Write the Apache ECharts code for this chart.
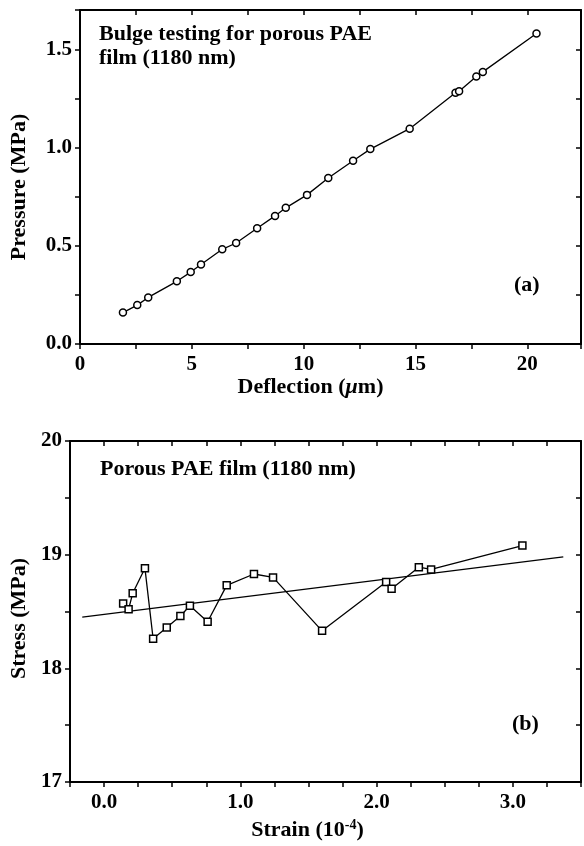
<!DOCTYPE html>
<html>
<head>
<meta charset="utf-8">
<script src="https://cdn.jsdelivr.net/npm/echarts@6/dist/echarts.min.js"></script>
<style>
  html, body { margin: 0; padding: 0; background: #fff; }
  #chart { width: 584px; height: 846px; }
</style>
</head>
<body>
<div id="chart"></div>
<script>
// (a) bulge test: deflection (um) vs pressure (MPa)
const deflection = [1.92, 2.56, 3.05, 4.33, 4.95, 5.41, 6.36, 6.98, 7.92, 8.72, 9.20,
  10.15, 11.10, 12.21, 12.98, 14.74, 16.79, 16.95, 17.72, 18.01, 20.41];
const pressure = [0.160, 0.198, 0.237, 0.319, 0.366, 0.405, 0.482, 0.514, 0.589, 0.652, 0.693,
  0.759, 0.845, 0.933, 0.992, 1.096, 1.279, 1.287, 1.362, 1.385, 1.580];

// (b) strain (1e-4) vs stress (MPa)
const strain = [0.14, 0.18, 0.21, 0.30, 0.36, 0.46, 0.56, 0.63, 0.76, 0.90, 1.10, 1.24,
  1.60, 2.07, 2.11, 2.31, 2.40, 3.07];
const stress = [18.57, 18.52, 18.66, 18.88, 18.26, 18.36, 18.46, 18.55, 18.41, 18.73, 18.83, 18.80,
  18.33, 18.76, 18.70, 18.89, 18.87, 19.08];

// linear fit drawn over (b)
const fitStrain = [-0.16, 3.37];
const fitStress = [18.45, 18.98];

const FONT = 'Liberation Serif';
const txt = { fontFamily: FONT, fontWeight: 'bold', fontSize: 22, color: '#000' };
const tickTxt = Object.assign({}, txt, { fontSize: 21 });
const axLine = { show: true, onZero: false, lineStyle: { color: '#000', width: 2 } };
const tick = { show: true, length: 5, lineStyle: { color: '#000', width: 1.5 } };

// keep only labels that sit on a multiple of step
function every(step, digits) {
  return function (v) {
    const k = v / step;
    return Math.abs(k - Math.round(k)) < 1e-6 ? v.toFixed(digits) : '';
  };
}

function mirror(axis, pos) {
  // top / right frame axis: ticks pointing inwards, no labels
  return Object.assign({}, axis, {
    position: pos,
    axisLabel: { show: false },
    axisTick: Object.assign({}, tick, { inside: true }),
    name: ''
  });
}

const xA = {
  type: 'value', gridIndex: 0, min: 0, max: 22.4, interval: 2.5,
  axisLine: axLine, splitLine: { show: false }, axisTick: tick,
  axisLabel: Object.assign({}, tickTxt, { margin: 10, formatter: every(5, 0) }),
  name: 'Deflection ({i|μ}m)', nameLocation: 'middle', nameGap: 30,
  nameTextStyle: Object.assign({}, txt, {
    padding: [0, 40, 0, 0],
    rich: { i: Object.assign({}, txt, { fontStyle: 'italic' }) }
  })
};
const yA = {
  type: 'value', gridIndex: 0, min: 0, max: 1.7, interval: 0.25,
  axisLine: axLine, splitLine: { show: false }, axisTick: tick,
  axisLabel: Object.assign({}, tickTxt, { margin: 8, formatter: every(0.5, 1) }),
  name: 'Pressure (MPa)', nameLocation: 'middle', nameGap: 50,
  nameTextStyle: Object.assign({}, txt, { padding: [0, 20, 0, 0] })
};
const xB = {
  type: 'value', gridIndex: 1, min: -0.25, max: 3.5, interval: 0.25,
  axisLine: axLine, splitLine: { show: false }, axisTick: tick,
  axisLabel: Object.assign({}, tickTxt, { margin: 10, formatter: every(1, 1) }),
  name: 'Strain (10{s|-4})', nameLocation: 'middle', nameGap: 36,
  nameTextStyle: Object.assign({}, txt, {
    padding: [0, 36, 0, 0],
    rich: { s: Object.assign({}, txt, { fontSize: 14, verticalAlign: 'top', padding: [0, 0, 10, 0] }) }
  })
};
const yB = {
  type: 'value', gridIndex: 1, min: 17, max: 20, interval: 0.5,
  axisLine: axLine, splitLine: { show: false }, axisTick: tick,
  axisLabel: Object.assign({}, tickTxt, { margin: 8, formatter: every(1, 0) }),
  name: 'Stress (MPa)', nameLocation: 'middle', nameGap: 40,
  nameTextStyle: Object.assign({}, txt, { padding: [0, 14, 0, 0] })
};

const chart = echarts.init(document.getElementById('chart'));
chart.setOption({
  backgroundColor: '#fff',
  animation: false,
  grid: [
    { left: 79, top: 10, right: 1, height: 334 },
    { left: 70, top: 441, right: 1, height: 341 }
  ],
  title: [
    { text: 'Bulge testing for porous PAE\nfilm (1180 nm)', left: 99, top: 22, padding: 0,
      textStyle: Object.assign({}, txt, { lineHeight: 24 }) },
    { text: '(a)', left: 514, top: 274, padding: 0, textStyle: txt },
    { text: 'Porous PAE film (1180 nm)', left: 100, top: 458, padding: 0, textStyle: txt },
    { text: '(b)', left: 512, top: 713, padding: 0, textStyle: txt }
  ],
  xAxis: [xA, mirror(xA, 'top'), xB, mirror(xB, 'top')],
  yAxis: [yA, mirror(yA, 'right'), yB, mirror(yB, 'right')],
  series: [
    {
      type: 'line', xAxisIndex: 0, yAxisIndex: 0,
      data: deflection.map((x, i) => [x, pressure[i]]),
      symbol: 'circle', symbolSize: 7,
      itemStyle: { color: '#fff', borderColor: '#000', borderWidth: 1.5 },
      lineStyle: { color: '#000', width: 1.3 }
    },
    {
      type: 'line', xAxisIndex: 2, yAxisIndex: 2,
      data: fitStrain.map((x, i) => [x, fitStress[i]]),
      symbol: 'none',
      lineStyle: { color: '#000', width: 1.3 }
    },
    {
      type: 'line', xAxisIndex: 2, yAxisIndex: 2,
      data: strain.map((x, i) => [x, stress[i]]),
      symbol: 'rect', symbolSize: 7,
      itemStyle: { color: '#fff', borderColor: '#000', borderWidth: 1.5 },
      lineStyle: { color: '#000', width: 1.3 }
    }
  ]
});
</script>
</body>
</html>
